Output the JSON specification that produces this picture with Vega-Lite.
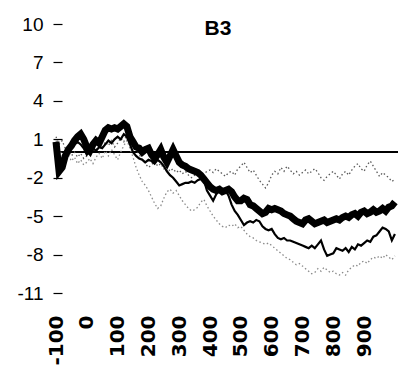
{
  "$schema": "https://vega.github.io/schema/vega-lite/v6.json",
  "width": 342,
  "height": 269,
  "autosize": "none",
  "padding": {"left": 56, "top": 24, "right": 3, "bottom": 83},
  "background": "white",
  "config": {"view": {"stroke": null}, "font": "Liberation Sans"},
  "title": {"text": "B3", "offset": -24, "fontSize": 21, "fontWeight": "bold", "font": "Liberation Sans", "color": "black", "dx": -9},
  "data": {"values": [
    {"t": -100, "thick": 0.8, "thin": 0.3, "up": 1.2, "low": 0.9},
    {"t": -90, "thick": -1.5, "thin": -1.0, "up": 0.6, "low": 0.3},
    {"t": -80, "thick": -1.2, "thin": -0.8, "up": 0.9, "low": -0.3},
    {"t": -70, "thick": -0.3, "thin": -0.2, "up": 0.3, "low": -0.6},
    {"t": -60, "thick": 0.2, "thin": 0.0, "up": 0.1, "low": -0.2},
    {"t": -50, "thick": 0.5, "thin": 0.3, "up": -0.3, "low": -0.7},
    {"t": -40, "thick": 0.9, "thin": 0.6, "up": 0.0, "low": -0.4},
    {"t": -30, "thick": 1.2, "thin": 0.8, "up": -0.4, "low": -0.9},
    {"t": -20, "thick": 1.4, "thin": 0.6, "up": -0.1, "low": -0.6},
    {"t": -10, "thick": 1.0, "thin": 0.3, "up": -0.5, "low": -1.0},
    {"t": 0, "thick": 0.4, "thin": -0.2, "up": -0.3, "low": -0.8},
    {"t": 10, "thick": 0.1, "thin": 0.0, "up": 0.0, "low": -0.5},
    {"t": 20, "thick": 0.6, "thin": 0.3, "up": 0.4, "low": -0.9},
    {"t": 30, "thick": 0.9, "thin": 0.1, "up": 0.2, "low": -0.4},
    {"t": 40, "thick": 0.7, "thin": 0.4, "up": 0.6, "low": -0.1},
    {"t": 50, "thick": 1.2, "thin": 0.3, "up": 0.3, "low": -0.5},
    {"t": 60, "thick": 1.7, "thin": 0.6, "up": 0.8, "low": 0.1},
    {"t": 70, "thick": 1.9, "thin": 0.9, "up": 0.5, "low": -0.3},
    {"t": 80, "thick": 1.8, "thin": 0.7, "up": 0.9, "low": 0.2},
    {"t": 90, "thick": 1.9, "thin": 1.0, "up": 0.4, "low": -0.2},
    {"t": 100, "thick": 1.8, "thin": 1.2, "up": 0.7, "low": -0.6},
    {"t": 110, "thick": 2.0, "thin": 1.0, "up": 1.1, "low": 0.0},
    {"t": 120, "thick": 2.2, "thin": 1.4, "up": 0.8, "low": 0.5},
    {"t": 130, "thick": 2.0, "thin": 1.2, "up": 1.4, "low": 0.9},
    {"t": 140, "thick": 1.2, "thin": 0.6, "up": 0.6, "low": 0.3},
    {"t": 150, "thick": 0.8, "thin": 0.0, "up": 0.9, "low": -0.4},
    {"t": 160, "thick": 0.4, "thin": -0.3, "up": 0.3, "low": -1.2},
    {"t": 170, "thick": 0.3, "thin": -0.5, "up": -0.2, "low": -1.8},
    {"t": 180, "thick": 0.0, "thin": -0.6, "up": -0.6, "low": -2.3},
    {"t": 190, "thick": 0.2, "thin": -0.8, "up": -0.9, "low": -2.6},
    {"t": 200, "thick": 0.3, "thin": -0.6, "up": -1.2, "low": -3.0},
    {"t": 210, "thick": -0.2, "thin": -0.7, "up": -1.0, "low": -3.5},
    {"t": 220, "thick": -0.5, "thin": -0.9, "up": -0.7, "low": -4.0},
    {"t": 230, "thick": -0.2, "thin": -0.6, "up": -1.1, "low": -4.4},
    {"t": 240, "thick": 0.2, "thin": -0.8, "up": -0.9, "low": -4.2},
    {"t": 250, "thick": -0.4, "thin": -1.1, "up": -1.3, "low": -3.6},
    {"t": 260, "thick": -0.8, "thin": -1.5, "up": -1.1, "low": -3.1},
    {"t": 270, "thick": -0.3, "thin": -1.8, "up": -1.5, "low": -2.9},
    {"t": 280, "thick": 0.2, "thin": -2.0, "up": -1.3, "low": -3.2},
    {"t": 290, "thick": -0.3, "thin": -2.3, "up": -1.6, "low": -3.0},
    {"t": 300, "thick": -0.8, "thin": -2.6, "up": -1.4, "low": -3.4},
    {"t": 310, "thick": -1.0, "thin": -2.5, "up": -1.7, "low": -3.8},
    {"t": 320, "thick": -1.1, "thin": -2.4, "up": -1.5, "low": -4.1},
    {"t": 330, "thick": -1.3, "thin": -2.4, "up": -1.8, "low": -4.4},
    {"t": 340, "thick": -1.4, "thin": -2.3, "up": -2.0, "low": -4.6},
    {"t": 350, "thick": -1.5, "thin": -2.4, "up": -1.8, "low": -4.5},
    {"t": 360, "thick": -1.6, "thin": -2.2, "up": -1.6, "low": -4.3},
    {"t": 370, "thick": -1.8, "thin": -2.1, "up": -1.9, "low": -3.9},
    {"t": 380, "thick": -2.1, "thin": -2.2, "up": -1.7, "low": -3.7},
    {"t": 390, "thick": -2.4, "thin": -3.0, "up": -1.5, "low": -4.2},
    {"t": 400, "thick": -2.7, "thin": -3.4, "up": -1.4, "low": -4.6},
    {"t": 410, "thick": -2.9, "thin": -3.8, "up": -1.6, "low": -5.0},
    {"t": 420, "thick": -3.0, "thin": -3.3, "up": -1.3, "low": -5.3},
    {"t": 430, "thick": -2.9, "thin": -3.0, "up": -1.5, "low": -5.6},
    {"t": 440, "thick": -3.1, "thin": -3.1, "up": -1.7, "low": -5.8},
    {"t": 450, "thick": -3.0, "thin": -3.0, "up": -1.9, "low": -5.9},
    {"t": 460, "thick": -2.9, "thin": -3.4, "up": -1.6, "low": -5.7},
    {"t": 470, "thick": -3.1, "thin": -4.1, "up": -1.5, "low": -5.8},
    {"t": 480, "thick": -3.5, "thin": -4.6, "up": -1.8, "low": -5.6},
    {"t": 490, "thick": -3.8, "thin": -4.9, "up": -1.3, "low": -5.9},
    {"t": 500, "thick": -3.8, "thin": -5.3, "up": -1.1, "low": -5.8},
    {"t": 510, "thick": -3.6, "thin": -5.7, "up": -0.8, "low": -6.1},
    {"t": 520, "thick": -3.7, "thin": -5.5, "up": -1.2, "low": -6.4},
    {"t": 530, "thick": -4.1, "thin": -5.4, "up": -1.6, "low": -6.6},
    {"t": 540, "thick": -4.2, "thin": -5.5, "up": -1.4, "low": -6.7},
    {"t": 550, "thick": -4.4, "thin": -5.3, "up": -1.8, "low": -6.9},
    {"t": 560, "thick": -4.6, "thin": -5.4, "up": -2.2, "low": -7.0},
    {"t": 570, "thick": -4.8, "thin": -5.8, "up": -2.5, "low": -7.1},
    {"t": 580, "thick": -4.7, "thin": -6.0, "up": -2.8, "low": -7.2},
    {"t": 590, "thick": -4.4, "thin": -6.1, "up": -2.4, "low": -7.1},
    {"t": 600, "thick": -4.5, "thin": -6.0, "up": -1.8, "low": -7.3},
    {"t": 610, "thick": -4.4, "thin": -6.4, "up": -1.5, "low": -7.5},
    {"t": 620, "thick": -4.5, "thin": -6.7, "up": -1.7, "low": -7.7},
    {"t": 630, "thick": -4.6, "thin": -6.8, "up": -1.2, "low": -7.9},
    {"t": 640, "thick": -4.8, "thin": -6.7, "up": -1.5, "low": -8.1},
    {"t": 650, "thick": -4.9, "thin": -6.9, "up": -1.1, "low": -8.3},
    {"t": 660, "thick": -5.0, "thin": -6.9, "up": -1.4, "low": -8.4},
    {"t": 670, "thick": -5.2, "thin": -7.0, "up": -1.7, "low": -8.6},
    {"t": 680, "thick": -5.4, "thin": -7.1, "up": -1.5, "low": -8.8},
    {"t": 690, "thick": -5.5, "thin": -7.2, "up": -1.8, "low": -8.7},
    {"t": 700, "thick": -5.6, "thin": -7.3, "up": -1.6, "low": -8.9},
    {"t": 710, "thick": -5.3, "thin": -7.4, "up": -1.4, "low": -9.1},
    {"t": 720, "thick": -5.2, "thin": -7.5, "up": -1.7, "low": -9.3},
    {"t": 730, "thick": -5.4, "thin": -7.3, "up": -1.5, "low": -9.5},
    {"t": 740, "thick": -5.6, "thin": -7.5, "up": -1.3, "low": -9.4},
    {"t": 750, "thick": -5.5, "thin": -7.2, "up": -1.6, "low": -9.1},
    {"t": 760, "thick": -5.4, "thin": -6.9, "up": -2.0, "low": -9.3},
    {"t": 770, "thick": -5.3, "thin": -7.6, "up": -2.2, "low": -9.0},
    {"t": 780, "thick": -5.5, "thin": -8.1, "up": -1.9, "low": -9.2},
    {"t": 790, "thick": -5.4, "thin": -8.0, "up": -1.7, "low": -9.4},
    {"t": 800, "thick": -5.3, "thin": -7.9, "up": -1.5, "low": -9.3},
    {"t": 810, "thick": -5.2, "thin": -7.5, "up": -1.8, "low": -9.5},
    {"t": 820, "thick": -5.3, "thin": -7.6, "up": -2.1, "low": -9.6},
    {"t": 830, "thick": -5.1, "thin": -7.7, "up": -1.7, "low": -9.4},
    {"t": 840, "thick": -5.0, "thin": -7.5, "up": -1.5, "low": -9.6},
    {"t": 850, "thick": -5.1, "thin": -7.8, "up": -1.8, "low": -9.2},
    {"t": 860, "thick": -4.9, "thin": -7.4, "up": -1.4, "low": -9.0},
    {"t": 870, "thick": -4.8, "thin": -7.6, "up": -1.1, "low": -8.8},
    {"t": 880, "thick": -5.0, "thin": -7.2, "up": -0.9, "low": -8.9},
    {"t": 890, "thick": -4.7, "thin": -7.3, "up": -1.3, "low": -8.6},
    {"t": 900, "thick": -4.6, "thin": -7.1, "up": -1.5, "low": -8.5},
    {"t": 910, "thick": -4.8, "thin": -6.9, "up": -1.0, "low": -8.7},
    {"t": 920, "thick": -4.7, "thin": -7.0, "up": -0.7, "low": -8.4},
    {"t": 930, "thick": -4.5, "thin": -6.6, "up": -1.1, "low": -8.2},
    {"t": 940, "thick": -4.7, "thin": -6.5, "up": -1.5, "low": -8.3},
    {"t": 950, "thick": -4.6, "thin": -6.2, "up": -1.9, "low": -8.1},
    {"t": 960, "thick": -4.4, "thin": -5.9, "up": -1.6, "low": -8.3},
    {"t": 970, "thick": -4.6, "thin": -6.0, "up": -1.8, "low": -8.0},
    {"t": 980, "thick": -4.3, "thin": -6.2, "up": -2.0, "low": -8.2},
    {"t": 990, "thick": -4.2, "thin": -6.9, "up": -2.3, "low": -8.4},
    {"t": 1000, "thick": -3.9, "thin": -6.4, "up": -2.1, "low": -8.1}
  ]},
  "encoding": {
    "x": {
      "field": "t", "type": "quantitative",
      "scale": {"domain": [-100, 1010], "nice": false, "zero": false},
      "axis": {
        "title": null, "values": [-100, 0, 100, 200, 300, 400, 500, 600, 700, 800, 900],
        "tickCount": 30,
        "labelAngle": -90, "labelFontSize": 20, "labelFont": "DejaVu Sans", "labelFontWeight": "bold", "labelColor": "black",
        "labelPadding": 22, "ticks": false, "domain": false, "grid": false,
        "labelExpr": "'' + datum.value", "labelOverlap": false, "labelFlush": false
      }
    }
  },
  "layer": [
    {
      "mark": {"type": "rule", "color": "black", "strokeWidth": 1.5},
      "encoding": {"x": null, "y": {"datum": 0, "type": "quantitative"}}
    },
    {
      "mark": {"type": "line", "color": "#8a8a8a", "strokeWidth": 1.3, "strokeDash": [1.5, 2.5]},
      "encoding": {
        "y": {
          "field": "low", "type": "quantitative",
          "scale": {"domain": [-11, 10], "nice": false, "zero": false},
          "axis": {
            "title": null, "values": [-11, -8, -5, -2, 1, 4, 7, 10], "tickCount": 30,
            "labelFontSize": 19, "labelColor": "black", "labelPadding": 10,
            "tickSize": 9, "tickColor": "black", "tickWidth": 1.2, "offset": -6,
            "domain": false, "grid": false, "labelExpr": "'' + datum.value",
            "labelOverlap": false, "labelFlush": false
          }
        }
      }
    },
    {
      "mark": {"type": "line", "color": "#5a5a5a", "strokeWidth": 1.3, "strokeDash": [1.5, 2.5]},
      "encoding": {"y": {"field": "up", "type": "quantitative"}}
    },
    {
      "mark": {"type": "line", "color": "black", "strokeWidth": 2.2},
      "encoding": {"y": {"field": "thin", "type": "quantitative"}}
    },
    {
      "mark": {"type": "line", "color": "black", "strokeWidth": 7},
      "encoding": {"y": {"field": "thick", "type": "quantitative"}}
    }
  ],
  "resolve": {"scale": {"y": "shared"}}
}
